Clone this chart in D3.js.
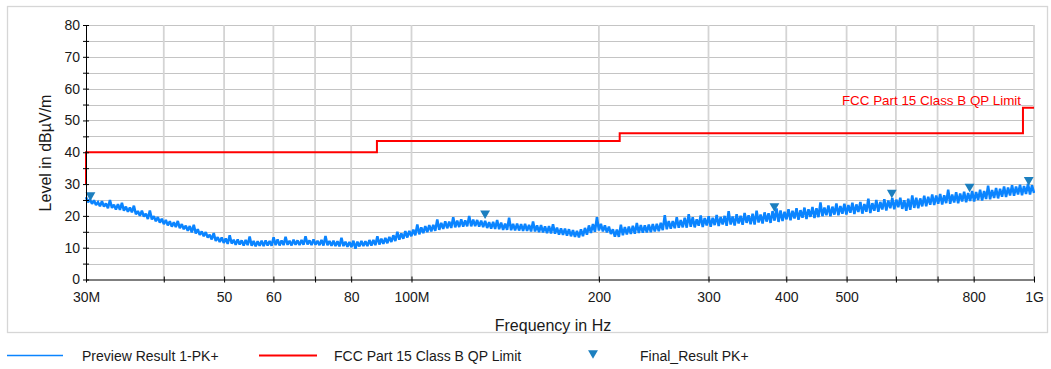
<!DOCTYPE html>
<html><head><meta charset="utf-8">
<script src="https://cdn.jsdelivr.net/npm/d3@7"></script>
<style>
body{margin:0;background:#fff;}
text{font-family:"Liberation Sans",Arial,sans-serif;fill:#1a1a1a;}
</style>
</head><body>
<svg id="chart" width="1051" height="369"></svg>
<script>
// ---- data ----
const limitFreq  = [30, 30, 88, 88, 216, 216, 960, 960, 1000];           // MHz
const limitLevel = [30, 40, 40, 43.5, 43.5, 46, 46, 54, 54];              // dBµV/m
const finalFreq  = [30.5, 131.3, 382.8, 591, 788, 980.7];                  // MHz
const finalLevel = [26.5, 20.8, 23.1, 27.3, 29.2, 31.3];                   // dBµV/m
// Preview Result 1-PK+ : sweep samples (peak / valley pairs), 30 MHz ... 1 GHz, log-spaced sweep
const previewLevel = [
25.9,24.3, 25.2,23.8, 24.9,23.4, 24.3,23.0, 24.6,22.9, 23.9,22.4, 25.0,22.5, 23.5,22.0, 23.7,21.9, 24.1,21.6,
22.9,21.3, 22.6,21.1, 23.2,20.5, 21.5,20.0, 21.6,19.8, 20.7,19.0, 21.7,18.9, 19.9,18.3, 19.6,17.9, 19.1,17.4,
18.7,17.0, 18.3,16.6, 18.0,16.5, 18.4,16.1, 17.4,15.8, 16.9,15.3, 16.8,14.8, 17.2,14.5, 15.8,14.0, 15.1,13.6,
14.9,13.2, 14.1,12.6, 14.6,12.1, 13.3,11.8, 13.2,11.5, 12.9,11.2, 13.9,11.3, 12.5,10.9, 12.6,11.0, 12.3,10.7,
12.4,10.8, 13.5,10.6, 12.1,10.4, 12.0,10.6, 12.2,10.5, 12.3,10.7, 12.1,10.6, 13.3,10.8, 12.6,10.7, 12.3,10.8,
13.4,10.9, 12.2,10.7, 12.5,10.9, 12.3,10.8, 12.4,10.9, 13.6,11.0, 12.3,10.8, 12.6,10.9, 12.2,10.8, 12.4,10.7,
13.7,10.8, 12.1,10.6, 12.2,10.5, 12.0,10.4, 13.1,10.5, 11.9,10.3, 11.8,10.2, 12.2,9.7, 11.9,10.4, 12.1,10.5,
12.0,10.5, 12.4,10.7, 12.4,10.8, 13.6,11.0, 12.8,11.2, 13.1,11.4, 13.4,11.8, 13.9,12.1, 15.0,12.5, 14.5,12.8,
15.2,13.2, 15.3,13.6, 15.7,13.9, 17.3,14.2, 16.4,14.6, 16.8,14.9, 17.1,15.1, 17.2,15.3, 18.9,15.6, 17.8,15.9,
18.3,16.1, 18.2,16.2, 19.6,16.4, 18.5,16.5, 18.9,16.6, 18.6,16.7, 20.0,16.7, 18.8,16.8, 18.7,16.6, 18.5,16.5,
18.4,16.2, 18.0,16.0, 18.1,15.9, 18.7,15.8, 17.9,15.6, 17.6,15.6, 19.4,15.5, 17.5,15.4, 17.6,15.4, 17.4,15.3,
17.5,15.3, 17.2,15.1, 18.2,15.1, 17.0,14.9, 17.1,14.8, 16.7,14.6, 16.8,14.5, 17.4,14.4, 16.3,14.1, 16.1,14.0,
16.0,13.8, 15.8,13.6, 15.5,13.4, 15.3,13.2, 15.8,13.6, 16.2,14.1, 17.0,14.6, 17.4,15.0, 19.6,15.4, 17.5,15.1,
17.0,14.8, 16.6,14.3, 15.8,13.5, 15.7,13.4, 17.2,13.9, 16.5,14.2, 16.6,14.3, 16.9,14.4, 17.8,14.6, 17.1,14.7,
17.0,14.8, 17.3,14.9, 17.4,15.1, 17.5,15.2, 17.8,15.5, 20.2,15.8, 18.4,16.0, 18.4,16.1, 19.6,16.3, 18.7,16.4,
19.4,16.3, 20.5,16.6, 19.6,16.4, 18.9,16.9, 20.1,16.5, 19.3,17.0, 19.9,16.6, 19.4,17.1, 20.3,16.8, 19.6,17.3,
20.0,16.9, 21.5,17.3, 19.8,17.0, 20.5,17.6, 20.0,17.2, 20.9,17.8, 20.2,17.4, 20.7,17.3, 21.6,17.9, 20.4,17.6,
21.1,18.2, 20.8,17.8, 21.5,18.5, 22.3,18.1, 21.7,18.4, 21.3,18.9, 22.1,18.6, 21.6,19.2, 22.4,18.8, 21.8,19.4,
22.6,19.0, 22.1,19.7, 22.8,19.3, 22.4,19.6, 24.2,19.9, 22.6,20.2, 23.3,19.9, 22.9,20.4, 23.9,20.2, 23.1,20.7,
23.8,20.4, 23.4,21.0, 24.1,20.6, 23.6,21.2, 24.4,20.7, 23.7,21.3, 25.4,20.9, 24.0,21.6, 25.0,21.3, 24.4,22.0,
25.2,21.7, 24.8,22.4, 25.6,22.1, 25.1,22.7, 25.7,22.2, 24.9,21.6, 25.4,21.9, 26.4,22.5, 25.7,22.4, 25.5,23.0,
26.3,23.0, 26.0,23.5, 26.7,23.4, 26.4,23.8, 26.9,23.6, 26.5,24.0, 28.2,23.8, 26.7,24.2, 27.4,24.0, 27.0,24.5,
27.6,24.3, 27.2,24.7, 27.8,24.5, 27.5,25.0, 28.2,24.8, 27.8,25.3, 29.5,25.2, 28.1,25.6, 28.8,25.5, 28.5,26.0,
29.2,25.9, 28.9,26.4, 29.6,26.3, 29.2,26.7, 29.8,26.5, 29.4,26.9, 30.1,26.7, 29.6,27.2
];
const sweepStart = 30, sweepStop = 1000; // MHz
const xTickValues = [30, 40, 50, 60, 70, 80, 100, 200, 300, 400, 500, 600, 700, 800, 1000];
const xTickLabels = ["30M", "", "50", "60", "", "80", "100M", "200", "300", "400", "500", "", "", "800", "1G"];
const yTickValues = [0, 5, 10, 15, 20, 25, 30, 35, 40, 45, 50, 55, 60, 65, 70, 75, 80];
const yTickLabels = ["0", "", "10", "", "20", "", "30", "", "40", "", "50", "", "60", "", "70", "", "80"];
const legendItems = ["Preview Result 1-PK+", "FCC Part 15 Class B QP Limit", "Final_Result PK+"];
const limitLabel = "FCC Part 15 Class B QP Limit";

// ---- layout ----
const svg = d3.select("#chart");
const L = 86, R = 1034, T = 25, B = 279.5;
const x = d3.scaleLog().domain([30, 1000]).range([L, R]);
const y = d3.scaleLinear().domain([0, 80]).range([B, T]);

// frame
svg.append("rect").attr("x", 7.5).attr("y", 6.5).attr("width", 1040).attr("height", 326)
  .attr("fill", "none").attr("stroke", "#d6d6d6").attr("stroke-width", 1.3);

// horizontal grid
svg.append("g").selectAll("line").data(yTickValues.filter(v => v > 0)).join("line")
  .attr("x1", L).attr("x2", R).attr("y1", d => Math.round(y(d)) + 0.5).attr("y2", d => Math.round(y(d)) + 0.5)
  .attr("stroke", "#c4c4c4").attr("stroke-width", 1);
// vertical grid
svg.append("g").selectAll("line").data(xTickValues.filter(v => v > 30)).join("line")
  .attr("x1", d => x(d)).attr("x2", d => x(d)).attr("y1", T).attr("y2", B)
  .attr("stroke", "#d4d4d4").attr("stroke-width", 1.8);

// clip
svg.append("clipPath").attr("id", "clip").append("rect")
  .attr("x", L - 1).attr("y", T - 2).attr("width", R - L + 2).attr("height", B - T + 3);

// preview trace
const N = previewLevel.length;
const ratio = sweepStop / sweepStart;
const previewData = previewLevel.map((v, i) => ({ f: sweepStart * Math.pow(ratio, i / (N - 1)), v }));
svg.append("path").datum(previewData).attr("clip-path", "url(#clip)")
  .attr("fill", "none").attr("stroke", "#0a84ff").attr("stroke-width", 2.5)
  .attr("stroke-linejoin", "miter").attr("stroke-miterlimit", 2)
  .attr("d", d3.line().x(d => x(d.f)).y(d => y(d.v)));

// limit line
const limitData = limitFreq.map((f, i) => ({ f, v: limitLevel[i] }));
svg.append("path").datum(limitData)
  .attr("fill", "none").attr("stroke", "#ff0000").attr("stroke-width", 2)
  .attr("d", d3.line().x(d => x(d.f)).y(d => y(d.v)));
svg.append("text").attr("x", 1021).attr("y", 104.5).attr("text-anchor", "end")
  .attr("font-size", 13.4).style("fill", "#ff0000").text(limitLabel);

// final result markers
const tri = d3.symbol().type(d3.symbolTriangle).size(42);
svg.append("g").selectAll("path").data(finalFreq.map((f, i) => ({ f, v: finalLevel[i] }))).join("path")
  .attr("d", tri).attr("fill", "#1c7fbf")
  .attr("transform", d => `translate(${x(d.f)},${y(d.v)}) rotate(180)`);

// axes
const xAxis = d3.axisBottom(x).tickValues(xTickValues)
  .tickFormat((d, i) => xTickLabels[i]).tickSizeInner(3).tickSizeOuter(0).tickPadding(10);
const gx = svg.append("g").attr("transform", `translate(0,${B})`).call(xAxis);
gx.select(".domain").attr("stroke", "#000");
gx.selectAll(".tick line").attr("y1", -3).attr("y2", 3).attr("stroke", "#000");
gx.selectAll("text").attr("font-size", 14).attr("font-family", "Liberation Sans, Arial, sans-serif").style("fill", "#1a1a1a");

const yAxis = d3.axisLeft(y).tickValues(yTickValues)
  .tickFormat((d, i) => yTickLabels[i]).tickSizeInner(3).tickSizeOuter(0).tickPadding(3);
const gy = svg.append("g").attr("transform", `translate(${L},0)`).call(yAxis);
gy.select(".domain").attr("stroke", "#000");
gy.selectAll(".tick line").attr("x1", -3).attr("x2", 3).attr("stroke", "#000");
gy.selectAll("text").attr("font-size", 14).attr("font-family", "Liberation Sans, Arial, sans-serif").style("fill", "#1a1a1a");

// axis titles
svg.append("text").attr("x", 553).attr("y", 331).attr("text-anchor", "middle")
  .attr("font-size", 16).text("Frequency in Hz");
svg.append("text").attr("transform", "translate(51,153) rotate(-90)").attr("text-anchor", "middle")
  .attr("font-size", 16).text("Level in dBµV/m");

// legend
const lg = svg.append("g");
lg.append("line").attr("x1", 7).attr("x2", 63).attr("y1", 355.5).attr("y2", 355.5).attr("stroke", "#0a84ff").attr("stroke-width", 1.3);
lg.append("text").attr("x", 82).attr("y", 361).attr("font-size", 14).text(legendItems[0]);
lg.append("line").attr("x1", 259).attr("x2", 317).attr("y1", 355.5).attr("y2", 355.5).attr("stroke", "#ff0000").attr("stroke-width", 1.8);
lg.append("text").attr("x", 334).attr("y", 361).attr("font-size", 14).text(legendItems[1]);
lg.append("path").attr("d", tri).attr("fill", "#1c7fbf").attr("transform", "translate(593,353) rotate(180)");
lg.append("text").attr("x", 640).attr("y", 361).attr("font-size", 14).text(legendItems[2]);
</script>
</body></html>
